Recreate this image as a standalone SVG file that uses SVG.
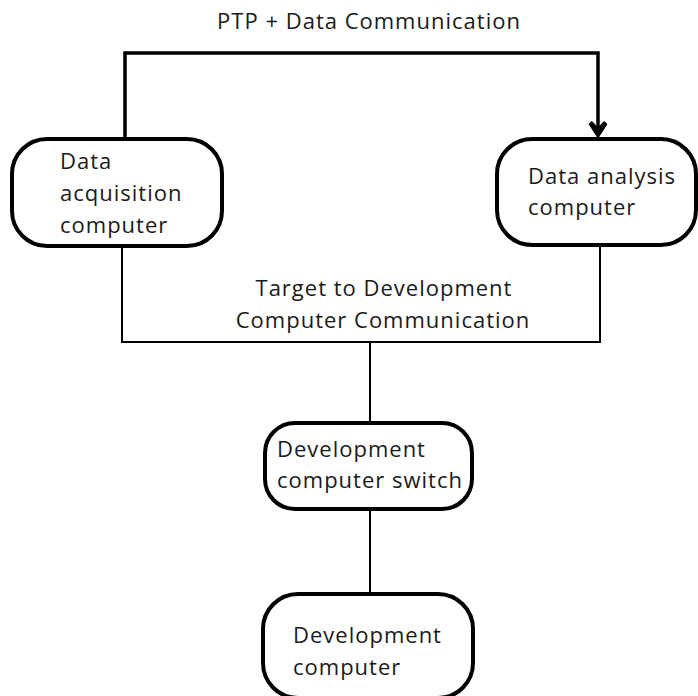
<svg xmlns="http://www.w3.org/2000/svg" width="698" height="696" viewBox="0 0 698 696">
<defs>
<style>
.box{fill:#fff;stroke:#000;stroke-width:4}
.t{font-family:"Open Sans","Noto Sans",sans-serif;font-size:22px;letter-spacing:1px;fill:#1a1a1a}
.thick{fill:none;stroke:#000;stroke-width:3.5}
.thin{fill:none;stroke:#000;stroke-width:2}
</style>
</defs>
<rect width="698" height="696" fill="#fff"/>
<g id="connectors">
<path class="thick" d="M125,139 V53 H598 V130"/>
<path d="M598,138 L589,124 L592,121.5 L598,128 L604,121.5 L607,124 Z" fill="#000" stroke="#000" stroke-width="1" stroke-linejoin="round"/>
<path class="thin" d="M122,245 V342 H600 V245"/>
<path class="thin" d="M370,342 V423"/>
<path class="thin" d="M370,509 V594"/>
<text class="t" x="369" y="29" text-anchor="middle">PTP + Data Communication</text>
<text class="t" x="384" y="296" text-anchor="middle">Target to Development</text>
<text class="t" x="383" y="328" text-anchor="middle">Computer Communication</text>
</g>
<g id="acq">
<rect class="box" x="12" y="139" width="210" height="107" rx="35"/>
<text class="t" x="60" y="169">Data</text>
<text class="t" x="60" y="201">acquisition</text>
<text class="t" x="60" y="233">computer</text>
</g>
<g id="analysis">
<rect class="box" x="497" y="139" width="199" height="106" rx="35"/>
<text class="t" x="528" y="184">Data analysis</text>
<text class="t" x="528" y="215">computer</text>
</g>
<g id="switch">
<rect class="box" x="265" y="423" width="207" height="86" rx="30"/>
<text class="t" x="277" y="457">Development</text>
<text class="t" x="277" y="488">computer switch</text>
</g>
<g id="dev">
<rect class="box" x="263" y="594" width="210" height="104" rx="35"/>
<text class="t" x="293" y="643">Development</text>
<text class="t" x="293" y="675">computer</text>
</g>
</svg>
